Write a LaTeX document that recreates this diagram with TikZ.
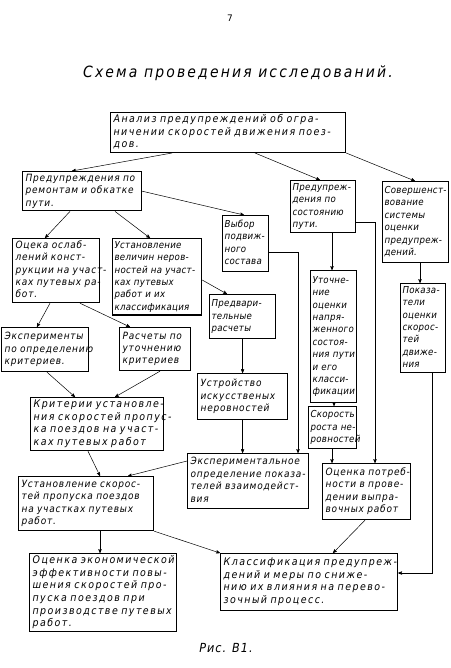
\documentclass[tikz,border=0pt]{standalone}
\usepackage{fontspec}
\setmainfont{DejaVu Sans}
\newfontfamily\hwfont{DejaVu Sans Condensed}[LetterSpace=8]
\newfontfamily\hwwide{DejaVu Sans Condensed}[LetterSpace=14]
\newfontfamily\hwnarrow{DejaVu Sans Condensed}[LetterSpace=3]
\usepackage{tikz}
\usetikzlibrary{arrows}
\newcommand{\hw}{\hwfont\itshape\fontsize{10}{12.4}\selectfont}
\newcommand{\hww}{\hwwide\itshape\fontsize{10.5}{12.6}\selectfont}
\newcommand{\hwn}{\hwnarrow\itshape\fontsize{9.6}{12.4}\selectfont}
\newcommand{\stroki}[1]{\begin{tabular}{@{}l@{}}#1\end{tabular}}
\tikzset{
	blok/.style={draw, line width=1.2pt, anchor=north west, inner xsep=3pt, inner ysep=1pt, font=\hw},
	shirokij/.style={blok, font=\hww},
	uzkij/.style={blok, inner xsep=2pt, font=\hwn},
	strelka/.style={->, >=stealth', line width=0.5pt}
}

\begin{document}
\begin{tikzpicture}[x=1pt,y=-1pt]
		\useasboundingbox (0,0) rectangle (450,668);
		\node[font=\fontsize{9}{10}\selectfont] (nomer) at (230,18) {7};
		\node[font=\hwwide\itshape\fontsize{15.5}{17}\selectfont] (zag) at (238,73) {Схема проведения исследований.};

		\node[shirokij, text width=229pt, minimum height=35pt] (ana) at (110,112) {\stroki{Анализ предупреждений об огра-\\ничении скоростей движения поез-\\дов.}};
		\node[blok, text width=113pt, minimum height=33pt] (rem) at (22,171) {\stroki{Предупреждения по\\ремонтам и обкатке\\пути.}};
		\node[uzkij, text width=61pt, minimum height=52pt] (sost) at (290,180) {\stroki{Предупреж-\\дения по\\состоянию\\пути.}};
		\node[uzkij, text width=62pt, minimum height=81pt] (sov) at (382,181) {\stroki{Совершенст-\\вование\\системы\\оценки\\предупреж-\\дений.}};
		\node[uzkij, text width=42pt, minimum height=56pt] (vyb) at (222,215) {\stroki{Выбор\\подвиж-\\ного\\состава}};
		\node[blok, text width=81pt, minimum height=60pt] (osl) at (12,238) {\stroki{Оцека ослаб-\\лений конст-\\рукции на участ-\\ках путевых ра-\\бот.}};
		\node[uzkij, text width=85pt, minimum height=76pt] (vel) at (112,238) {\stroki{Установление\\величин неров-\\ностей на участ-\\ках путевых\\работ и их\\классификация}};
		\node[uzkij, text width=42pt, minimum height=132pt] (uto) at (310,270) {\stroki{Уточне-\\ние\\оценки\\напря-\\женного\\состоя-\\ния пути\\и его\\класси-\\фикации}};
		\node[uzkij, text width=41pt, minimum height=87pt] (pok) at (400,283) {\stroki{Показа-\\тели\\оценки\\скорос-\\тей\\движе-\\ния}};
		\node[uzkij, text width=62pt, minimum height=44pt] (pre) at (209,294) {\stroki{Предвари-\\тельные\\расчеты}};
		\node[blok, text width=81pt, minimum height=44pt] (eks) at (1,327) {\stroki{Эксперименты\\по определению\\критериев.}};
		\node[blok, text width=65pt, minimum height=43pt] (ras) at (119,327) {\stroki{Расчеты по\\уточнению\\критериев}};
		\node[blok, text width=84pt, minimum height=46pt] (ust) at (197,373) {\stroki{Устройство\\искусственых\\неровностей}};
		\node[uzkij, text width=44pt, minimum height=42pt] (sko) at (308,406) {\stroki{Скорость\\роста не-\\ровностей}};
		\node[shirokij, text width=127pt, minimum height=53pt] (kri) at (30,397) {\stroki{Критерии установле-\\ния скоростей пропус-\\ка поездов на участ-\\ках путевых работ}};
		\node[blok, text width=115pt, minimum height=55pt] (exp) at (187,453) {\stroki{Экспериментальное\\определение показа-\\телей взаимодейст-\\вия}};
		\node[blok, text width=82pt, minimum height=56pt] (otr) at (322,463) {\stroki{Оценка потреб-\\ности в прове-\\дении выпра-\\вочных работ}};
		\node[blok, text width=129pt, minimum height=54pt] (uss) at (18,476) {\stroki{Установление скорос-\\тей пропуска поездов\\на участках путевых\\работ.}};
		\node[shirokij, text width=141pt, minimum height=78pt] (eko) at (29,553) {\stroki{Оценка экономической\\эффективности повы-\\шения скоростей про-\\пуска поездов при\\производстве путевых\\работ.}};
		\node[shirokij, text width=171pt, minimum height=57pt] (kla) at (220,553) {\stroki{Классификация предупреж-\\дений и меры по сниже-\\нию их влияния на перево-\\зочный процесс.}};

		\node[font=\hwfont\itshape\fontsize{12.5}{13}\selectfont] (ris) at (226,648) {Рис. В1.};

		\draw[strelka] ([xshift=62pt]ana.south west) -- ([xshift=50pt]rem.north west);
		\draw[strelka] ([xshift=145pt]ana.south west) -- ([xshift=30pt]sost.north west);
		\draw[strelka] (ana.south east) -- ([xshift=33pt]sov.north west);
		\draw[strelka] (rem.east) -- ([xshift=22pt]vyb.north west);
		\draw[strelka] ([xshift=48pt]rem.south west) -- ([xshift=33pt]osl.north west);
		\draw[strelka] ([xshift=93pt]rem.south west) -- ([xshift=38pt]vel.north west);
		\draw[strelka] ([xshift=38pt]osl.south west) -- ([xshift=36pt]eks.north west);
		\draw[strelka] ([xshift=68pt]osl.south west) -- ([xshift=11pt]ras.north west);
		\draw[strelka] ([yshift=-42pt]vel.north east) -- ([xshift=18pt]pre.north west);
		\draw[strelka] ([xshift=46pt]eks.south west) -- ([xshift=45pt]kri.north west);
		\draw[strelka] ([xshift=41pt]ras.south west) -- ([xshift=85pt]kri.north west);
		\draw[strelka] (pre.south) -- (pre.south |- ust.north);
		\draw[strelka] (ust.south) -- (ust.south |- exp.north);
		\draw[strelka] ([yshift=-37pt]vyb.north east) -| ([xshift=111pt]exp.north west);
		\draw[strelka] ([xshift=42pt]sost.south west) -- ([xshift=22pt]uto.north west);
		\draw[strelka] ([yshift=-42pt]sost.north east) -| ([xshift=53pt]otr.north west);
		\draw[strelka] ([xshift=24pt]uto.south west) -- ([xshift=26pt]sko.north west);
		\draw[strelka] ([xshift=24pt]sko.south west) -- ([xshift=10pt]otr.north west);
		\draw[strelka] ([xshift=38pt]sov.south west) -- ([xshift=20pt]pok.north west);
		\draw[strelka] ([xshift=32pt]pok.south west) |- ([yshift=-20pt]kla.north east);
		\draw[strelka] ([xshift=58pt]kri.south west) -- ([xshift=82pt]uss.north west);
		\draw[strelka] ([yshift=-8pt]exp.north west) -- ([xshift=110pt]uss.north west);
		\draw[strelka] ([xshift=82pt]uss.south west) -- ([xshift=71pt]eko.north west);
		\draw[strelka] (uss.south east) -- (kla.north west);
		\draw[strelka] ([xshift=43pt]otr.south west) -- ([xshift=113pt]kla.north west);
	\end{tikzpicture}
\end{document}
